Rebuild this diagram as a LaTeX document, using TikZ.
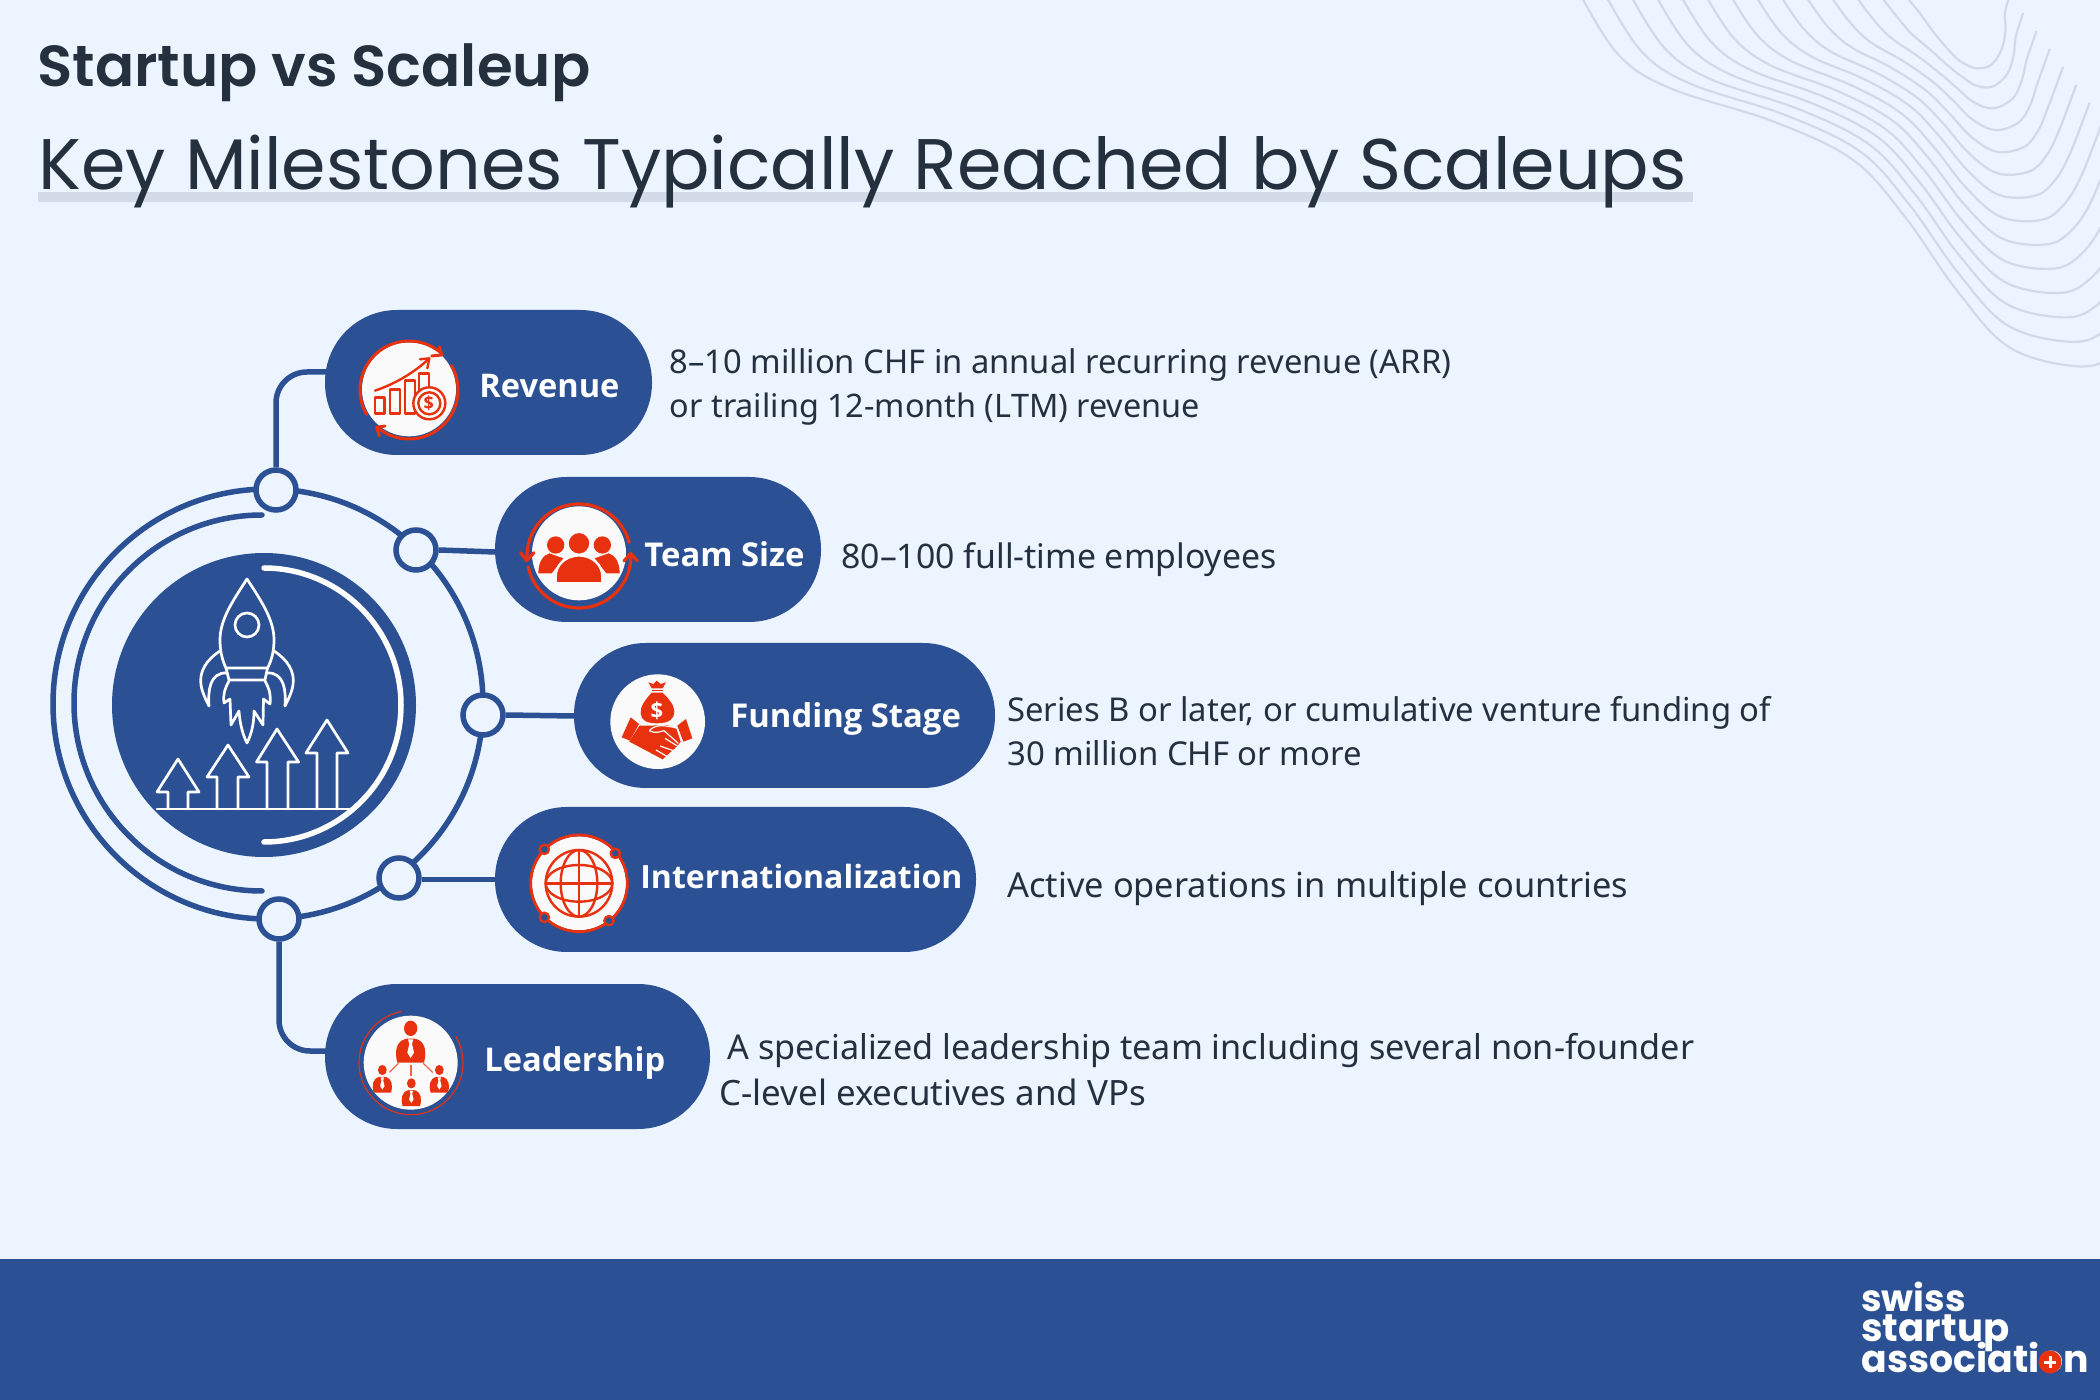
\documentclass[tikz,border=0pt]{standalone}
\usepackage{fontspec}
\usetikzlibrary{calc}
\setmainfont{Noto Sans}
\newfontfamily\titlefont{Poppins}
\newfontfamily\semifont{Poppins SemiBold}
\newfontfamily\labelfont{Open Sans}
\definecolor{bgc}{HTML}{EBF4FF}
\definecolor{bluec}{HTML}{2B5093}
\definecolor{redc}{HTML}{E8320F}
\definecolor{inkc}{HTML}{25303F}
\definecolor{ulc}{HTML}{D3DAE8}
\definecolor{wavec}{HTML}{D2DAE7}
\definecolor{discc}{HTML}{FAFAFA}
\newcommand{\sz}[1]{\fontsize{#1}{15.25}\selectfont}
\normallineskiplimit=-30pt
\lineskiplimit=-30pt
\tikzset{
  pill/.style={fill=bluec,rounded corners=36pt,minimum height=72.5pt,inner sep=0pt,outer sep=0pt,draw=none},
  hub/.style={circle,draw=bluec,fill=bgc,line width=2.75pt,minimum size=20pt,inner sep=0pt,outer sep=1.375pt},
  conn/.style={draw=bluec,line width=2.75pt},
  body/.style={text=inkc,anchor=base west,inner sep=0pt},
  tag/.style={text=white,anchor=base west,inner sep=0pt},
  rk/.style={draw=white,line width=1.35pt,line join=round,line cap=round},
  ic/.style={draw=redc,line width=1.2pt,line cap=round,line join=round},
  wave/.style={draw=wavec,line width=1.1pt},
  logo/.style={text=white,anchor=south west,inner sep=0pt,align=left},
  zoomed/.style={x=0.16667pt,y=-0.16667pt},
  persona/.pic={
    \fill[redc] (0,-103) ellipse[x radius=20,y radius=23];
    \fill[redc] (-40,0) .. controls (-48,-30) and (-46,-66) .. (-12,-72) -- (12,-72) .. controls (46,-66) and (48,-30) .. (40,0) -- cycle;
    \fill[white] (-8,-70) -- (8,-70) -- (4,-56) -- (10,-30) -- (0,-14) -- (-10,-30) -- (-4,-56) -- cycle;
  }
}
\begin{document}
\begin{tikzpicture}[x=0.5pt,y=-0.5pt]
\useasboundingbox (0,0) rectangle (2100,1400);
\fill[bgc] (0,0) rectangle (2100,1400);
\fill[bluec] (0,1259) rectangle (2100,1400);
% waves
\begin{scope}
\clip (0,0) rectangle (2100,1400);
\foreach \k in {0,...,13}{
  \pgfmathsetmacro{\t}{\k/13}
  \draw[wave] plot[smooth,tension=.6] coordinates {
   ({1560+(1000-940*\t)/2.9},{-15/3})
   ({1560+(1040-870*\t)/2.9},{(35+130*\t)/3})
   ({1560+(1075-755*\t)/2.9},{(85+180*\t)/3})
   ({1560+(1110-490*\t)/2.9},{(130+235*\t)/3})
   ({1560+(1150-300*\t)/2.9},{(175+305*\t)/3})
   ({1560+(1180-180*\t)/2.9},{(195+455*\t)/3})
   ({1560+(1210-60*\t)/2.9},{(205+665*\t)/3})
   ({1560+(1250+50*\t)/2.9},{(195+845*\t)/3})
   ({1560+(1280+210*\t)/2.9},{(150+948*\t)/3})
   ({1560+(1292+308*\t)/2.9},{(90+980*\t)/3})
   ({1560+(1290+410*\t)/2.9},{(40+910*\t)/3})
   ({1560+(1305+500*\t)/2.9},{(-15+700*\t)/3})
  };
}
\end{scope}
% title
\fill[ulc] (38,192) rectangle (1693,202);
\node[font=\semifont\fontsize{28.95}{30}\selectfont,text=inkc,anchor=base west,inner sep=0pt] (t1) at (37,87) {Startup vs Scaleup};
\node[font=\titlefont\fontsize{35.8}{40}\selectfont,text=inkc,anchor=base west,inner sep=0pt] (t2) at (38,190) {Key Milestones Typically Reached by Scaleups};
% rings
\coordinate (oc) at (268,704);
\coordinate (ic) at (262,703);
\coordinate (dc) at (264,705);
\draw[bluec,line width=2.75pt] (oc) circle[radius=107.5pt];
\draw[bluec,line width=2.75pt,line cap=round] ($(ic)+(90:94pt)$) arc[start angle=90,end angle=270,radius=94pt];
\fill[bluec] (dc) circle[radius=76pt];
\draw[white,line width=2.75pt,line cap=round] ($(dc)+(90:68.5pt)$) arc[start angle=90,end angle=-90,radius=68.5pt];
% hubs
\node[hub] (n1) at (276,490) {};
\node[hub] (n2) at (416,550) {};
\node[hub] (n3) at (483,715) {};
\node[hub] (n4) at (399,878) {};
\node[hub] (n5) at (279,919) {};
% pills
\node[pill,minimum width=163.5pt] (p1) at (488.5,382.5) {};
\node[pill,minimum width=163pt] (p2) at (658,549.5) {};
\node[pill,minimum width=210.5pt] (p3) at (784.5,715.5) {};
\node[pill,minimum width=240.5pt] (p4) at (735.5,879.5) {};
\node[pill,minimum width=192.5pt] (p5) at (517.5,1056.5) {};
% connectors
\coordinate (c1) at (326,372);
\coordinate (c5) at (326,1051);
\draw[conn,rounded corners=15.5pt] (n1.north) |- (c1);
\draw[conn] (n2.east) -- (p2.west |- 0,552);
\draw[conn] (n3.east) -- (p3.west |- 0,716);
\draw[conn] (n4.east |- p4.west) -- (p4.west);
\draw[conn,rounded corners=15.5pt] (n5.south) |- (c5);
% rocket
\draw[rk] (247,579) .. controls (232,602) and (220,620) .. (220,640) .. controls (220,650) and (222,660) .. (226,668) -- (267.5,668) .. controls (272,660) and (274,650) .. (274,640) .. controls (274,620) and (262,602) .. (247,579) -- cycle;
\draw[rk] (247,625) circle[radius=6pt];
\draw[rk] (226,668) -- (229,680) -- (265,680) -- (267.5,668);
\draw[rk] (220,651) .. controls (206,660) and (199,672) .. (201,685) .. controls (202,692) and (206,700) .. (209,706) .. controls (208,692) and (209,672) .. (227,673);
\draw[rk] (274,651) .. controls (288,660) and (295,672) .. (293,685) .. controls (292,692) and (288,700) .. (285,706) .. controls (286,692) and (285,672) .. (267,673);
\draw[rk] (229,681) .. controls (224,690) and (223,696) .. (224,703) -- (230,699) -- (231,725) -- (239,711) .. controls (240,725) and (243,735) .. (247,743) .. controls (251,735) and (254,725) .. (254,711) -- (263,725) -- (263.5,699) -- (270,704) .. controls (271,696) and (270,690) .. (265,681);
\draw[rk] (157,809) -- (349,809);
\foreach \tx/\ty/\hb/\hl/\hr/\sl/\sr in {178/759/792/157/199/168/188,228/745/777/207/249/217/238,277/729/762/256.5/298.6/267/288,327/720/753/306/348/317/337}{
  \draw[rk] (\sl,809) -- (\sl,\hb) -- (\hl,\hb) -- (\tx,\ty) -- (\hr,\hb) -- (\sr,\hb) -- (\sr,809);
}
% revenue icon
\begin{scope}[shift={(340,320)},zoomed]
\coordinate (rc) at (207,210);
\fill[discc] (207,208) circle[radius=141];
\draw[ic,line width=1.5pt] ($(rc)+(47:24.5pt)$) arc[start angle=47,end angle=210,radius=24.5pt];
\draw[ic,line width=1.5pt] ($(rc)+(30:24.5pt)$) arc[start angle=30,end angle=-131,radius=24.5pt];
\draw[ic,line width=1.5pt] (298,80) -- (305,105) -- (275,108);
\draw[ic,line width=1.5pt] (135,318) -- (110,322) -- (118,348);
\draw[ic] (105,232) rectangle (133,280);
\draw[ic] (150,208) rectangle (180,280);
\draw[ic] (195,182) rectangle (225,280);
\draw[ic] (237,160) rectangle (267,210);
\draw[ic,fill=discc] (268,250) circle[radius=48];
\draw[ic] (268,250) circle[radius=33];
\node[font=\labelfont\bfseries\fontsize{9}{9}\selectfont,text=redc,inner sep=0pt] (rd) at (266,250) {\$};
\draw[ic] (105,212) .. controls (170,190) and (225,155) .. (265,118);
\draw[ic] (240,118) -- (268,115) -- (262,145);
\end{scope}
% team icon
\begin{scope}[shift={(510,490)},zoomed]
\coordinate (tc) at (207,198);
\fill[discc] (207,190) circle[radius=141];
\draw[ic,line width=1.6pt] ($(tc)+(15:26pt)$) arc[start angle=15,end angle=183,radius=26pt];
\draw[ic,line width=1.6pt] ($(tc)+(192:26pt)$) arc[start angle=192,end angle=359,radius=26pt];
\draw[ic,line width=1.6pt] (32,188) -- (50,212) -- (72,188);
\draw[ic,line width=1.6pt] (342,213) -- (362,190) -- (382,213);
\fill[redc] (85,250) .. controls (85,215) and (100,195) .. (118,190) -- (160,205) -- (125,250) -- cycle;
\fill[redc] (329,250) .. controls (329,215) and (314,195) .. (296,190) -- (254,205) -- (289,250) -- cycle;
\fill[redc] (137,165) circle[radius=26];
\fill[redc] (277,165) circle[radius=26];
\draw[discc,fill=redc,line width=1pt] (207,160) circle[radius=34];
\draw[discc,fill=redc,line width=1.2pt] (137,280) -- (137,260) .. controls (137,225) and (165,198) .. (207,196) .. controls (249,198) and (277,225) .. (277,260) -- (277,280) -- cycle;
\end{scope}
% funding icon
\begin{scope}[shift={(590,660)},zoomed]
\fill[discc] (203,185) circle[radius=142];
\fill[redc] (175,67) -- (190,72) -- (200,62) -- (212,72) -- (228,67) -- (218,85) -- (185,85) -- cycle;
\fill[redc] (186,89) rectangle (218,94);
\fill[redc] (185,98) .. controls (165,120) and (150,140) .. (152,160) .. controls (153,180) and (170,190) .. (200,190) .. controls (240,190) and (253,175) .. (253,155) .. controls (253,135) and (235,115) .. (218,98) -- cycle;
\node[font=\labelfont\bfseries\fontsize{11}{11}\selectfont,text=white,inner sep=0pt] (fd) at (201,153) {\$};
\fill[redc] (95,232) -- (122,172) -- (147,192) -- (120,242) -- cycle;
\fill[redc] (262,197) -- (288,177) -- (307,235) -- (280,245) -- cycle;
\fill[redc] (148,197) -- (180,197) -- (230,195) -- (258,203) -- (272,245) -- (262,258) -- (218,298) -- (118,245) -- cycle;
\draw[discc,line width=.6pt] (178,212) .. controls (195,192) and (225,195) .. (262,205);
\draw[discc,line width=.6pt] (178,212) .. controls (195,222) and (210,215) .. (222,212) -- (265,250);
\draw[discc,line width=.6pt] (210,258) -- (250,272);
\draw[discc,line width=.6pt] (198,270) -- (232,290);
\draw[discc,line width=.6pt] (225,235) -- (262,258);
\end{scope}
% internationalization icon
\begin{scope}[shift={(510,825)},zoomed]
\fill[discc] (207,175) circle[radius=141];
\draw[ic,line width=1.4pt] (207,175) circle[radius=145];
\draw[ic] (207,175) circle[radius=100];
\draw[ic] (207,175) ellipse[x radius=55,y radius=100];
\draw[ic] (207,175) ellipse[x radius=100,y radius=55];
\draw[ic] (207,75) -- (207,275);
\draw[ic] (107,175) -- (307,175);
\foreach \px/\py in {103/73,316/85,103/277,297/287}{
  \draw[ic,fill=bluec] (\px,\py) circle[radius=14];
}
\end{scope}
% leadership icon
\begin{scope}[shift={(340,1000)},zoomed]
\coordinate (lc) at (213,188);
\fill[discc] (212,188) circle[radius=141];
\draw[redc,line width=.55pt] ($(lc)+(30:26pt)$) arc[start angle=30,end angle=-260,radius=26pt];
\pic at (212,188) {persona};
\pic[scale=.66] at (127,278) {persona};
\pic[scale=.66] at (298,278) {persona};
\pic[scale=.66] at (214,318) {persona};
\draw[redc!75,line width=.6pt] (175,190) -- (148,217);
\draw[redc!75,line width=.6pt] (213,195) -- (213,228);
\draw[redc!75,line width=.6pt] (250,190) -- (278,217);
\end{scope}
% pill labels
\node[tag,font=\labelfont\bfseries\sz{16.3}] (l1) at (479,398) {Revenue};
\node[tag,font=\labelfont\bfseries\sz{16.4}] (l2) at (644,567) {Team Size};
\node[tag,font=\labelfont\bfseries\sz{16.4}] (l3) at (730,728) {Funding Stage};
\node[tag,font=\labelfont\bfseries\sz{16}] (l4) at (640,889) {Internationalization};
\node[tag,font=\labelfont\bfseries\sz{16.35}] (l5) at (484,1071) {Leadership};
% texts
\node[body,font=\sz{16.35}] (b1) at (669.5,374) {8–10 million CHF in annual recurring revenue (ARR)};
\node[body,font=\sz{16.2}] (b1b) at (669.5,418) {or trailing 12-month (LTM) revenue};
\node[body,font=\sz{16.9}] (b2) at (841,568.5) {80–100 full-time employees};
\node[body,font=\sz{16.4}] (b3) at (1007,721.5) {Series B or later, or cumulative venture funding of};
\node[body,font=\sz{16.45}] (b3b) at (1007,765.5) {30 million CHF or more};
\node[body,font=\sz{17.2}] (b4) at (1007,897.5) {Active operations in multiple countries};
\node[body,font=\sz{17.1}] (b5) at (727,1059.5) {A specialized leadership team including several non-founder};
\node[body,font=\sz{17.45}] (b5b) at (719,1105) {C-level executives and VPs};
% logo
\node[logo,font=\titlefont\bfseries\sz{18.9}] (g1) at (1861,1373) {{\sz{18.4}swiss}\\{\sz{19.3}startup}\\{\sz{18.9}association}};
\node[circle,fill=redc,minimum size=11.5pt,inner sep=0pt] (gd) at (2050,1362) {};
\fill[white] ($(gd)+(-6,-1.5)$) rectangle ($(gd)+(6,1.5)$);
\fill[white] ($(gd)+(-1.5,-6)$) rectangle ($(gd)+(1.5,6)$);
\end{tikzpicture}
\end{document}
